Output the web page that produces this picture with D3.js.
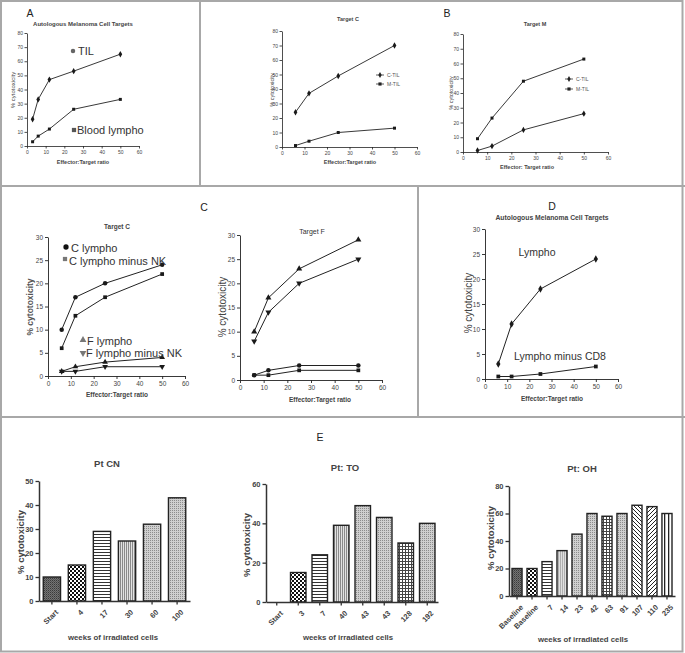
<!DOCTYPE html>
<html><head><meta charset="utf-8">
<script src="https://cdn.jsdelivr.net/npm/d3@7"></script>
<style>body{margin:0;background:#fff;} svg{display:block;font-family:"Liberation Sans",Arial,sans-serif;}</style>
</head><body><svg id="c" width="685" height="653"></svg>
<script>
// ---------- data ----------
const ratiosA = [3, 6, 12, 25, 50];
const tilA = [19, 33, 47, 53, 65];
const bloodA = [3, 7, 12, 26, 33];
const ratios = [6, 12, 25, 50];
const targetC_CTIL = [24, 37, 49, 70];
const targetC_MTIL = [1, 4, 10, 13];
const targetM_MTIL = [9, 23, 48, 63];
const targetM_CTIL = [1, 4, 15, 26];
const tcC = [10, 17, 20, 24];
const tcCminusNK = [6, 13, 17, 22];
const tcF = [1, 2, 3, 4];
const tcFminusNK = [1, 1, 2, 2];
const tfF = [10, 17, 23, 29];
const tfFminusNK = [8, 14, 20, 25];
const tfC = [1, 2, 3, 3];
const tfCminusNK = [1, 1, 2, 2];
const dLympho = [3, 11, 18, 24];
const dMinusCD8 = [0.5, 0.5, 1, 2.5];
const xTicks = [0, 10, 20, 30, 40, 50, 60];
const yTicks80 = [0, 10, 20, 30, 40, 50, 60, 70, 80];
const yTicks30 = [0, 5, 10, 15, 20, 25, 30];
const cnWeeks = ["Start", "4", "17", "30", "60", "100"];
const cnValues = [10, 15, 29, 25, 32, 43];
const cnTicks = [0, 10, 20, 30, 40, 50];
const toWeeks = ["Start", "3", "7", "40", "43", "43", "128", "192"];
const toValues = [0, 15, 24, 39, 49, 43, 30, 40];
const toTicks = [0, 20, 40, 60];
const ohWeeks = ["Baseline", "Baseline", "7", "14", "23", "42", "63", "91", "107", "110", "235"];
const ohValues = [20, 20, 25, 33, 45, 60, 58, 60, 66, 65, 60];
const ohTicks = [0, 20, 40, 60, 80];
// styles (fill patterns per bar)
const cnPatterns = ["pDark", "pChecker", "pHLines", "pVLines", "pDots", "pDots"];
const toPatterns = ["pDots", "pChecker", "pHLines", "pVLines", "pDots", "pDots", "pGrid", "pDots"];
const ohPatterns = ["pDark", "pChecker", "pHLines", "pLight", "pDots", "pDots", "pGrid", "pDots", "pDiag1", "pDiag2", "pVLines2"];

const svg = d3.select("#c");
const defs = svg.append("defs");
function pat(id, w, h, bg, fn) {
  const p = defs.append("pattern").attr("id", id).attr("patternUnits", "userSpaceOnUse")
    .attr("width", w).attr("height", h);
  p.append("rect").attr("width", w).attr("height", h).attr("fill", bg);
  fn(p);
}
const r = (p, x, y, w, h, c) => p.append("rect").attr("x", x).attr("y", y).attr("width", w).attr("height", h).attr("fill", c);
pat("pDark", 2, 2, "#747474", p => { r(p, 0, 0, 1, 1, "#3a3a3a"); r(p, 1, 1, 1, 1, "#555"); });
pat("pChecker", 4, 4, "#fff", p => { r(p, 0, 0, 2, 2, "#111"); r(p, 2, 2, 2, 2, "#111"); });
pat("pHLines", 4, 3, "#fff", p => { r(p, 0, 0, 4, 1, "#333"); });
pat("pVLines", 2, 4, "#e2e2e2", p => { r(p, 0, 0, 1, 4, "#8a8a8a"); });
pat("pVLines2", 4, 4, "#fff", p => { r(p, 0, 0, 1.3, 4, "#222"); });
pat("pDots", 2, 2, "#cfcfcf", p => { r(p, 0, 0, 1, 1, "#8c8c8c"); });
pat("pLight", 2, 2, "#e0e0e0", p => { r(p, 0, 0, 1, 2, "#b0b0b0"); });
pat("pGrid", 3, 3, "#fff", p => { r(p, 0, 0, 3, 1, "#444"); r(p, 0, 0, 1, 3, "#444"); });
pat("pDiag1", 4, 4, "#fff", p => p.append("path").attr("d", "M0,0L4,4M-1,3L1,5M3,-1L5,1").attr("stroke", "#222").attr("stroke-width", 1));
pat("pDiag2", 4, 4, "#fff", p => p.append("path").attr("d", "M0,4L4,0M-1,1L1,-1M3,5L5,3").attr("stroke", "#222").attr("stroke-width", 1));

// ---------- frame ----------
const FR = "#a8a8a8";
svg.append("rect").attr("x", 1).attr("y", 1).attr("width", 681.5).attr("height", 650.5).attr("fill", "none").attr("stroke", FR).attr("stroke-width", 2);
const ln = (x1, y1, x2, y2) => svg.append("line").attr("x1", x1).attr("y1", y1).attr("x2", x2).attr("y2", y2).attr("stroke", FR).attr("stroke-width", 2);
ln(0, 186, 685, 186);
ln(0, 417, 685, 417);
ln(200, 0, 200, 186);
ln(418, 186, 418, 417);

function txt(x, y, s, size, o = {}) {
  const t = svg.append("text").attr("x", x).attr("y", y).text(s)
    .attr("font-size", size).attr("fill", o.fill || "#333")
    .attr("font-weight", o.bold ? "bold" : "normal")
    .attr("text-anchor", o.anchor || "middle")
    .attr("dominant-baseline", "central");
  if (o.rotate) t.attr("transform", `rotate(${o.rotate},${x},${y})`);
  return t;
}
const SYM = { circle: d3.symbolCircle, square: d3.symbolSquare, diamond: d3.symbolDiamond, tri: d3.symbolTriangle };
function marker(g, x, y, sym, size, color, down) {
  g.append("path").attr("transform", `translate(${x},${y})${down ? " rotate(180)" : ""}`)
    .attr("d", d3.symbol().type(SYM[sym]).size(size)).attr("fill", color);
}

function lineChart(o) {
  const g = svg.append("g");
  const x = d3.scaleLinear().domain([0, 60]).range([o.x0, o.x1]);
  const y = d3.scaleLinear().domain([0, o.ymax]).range([o.y0, o.y1]);
  const xa = g.append("g").attr("transform", `translate(0,${o.y0})`)
    .call(d3.axisBottom(x).tickValues(xTicks).tickSize(o.tick).tickSizeOuter(0).tickPadding(o.pad));
  const ya = g.append("g").attr("transform", `translate(${o.x0},0)`)
    .call(d3.axisLeft(y).tickValues(o.yticks).tickSize(o.tick).tickSizeOuter(0).tickPadding(o.pad));
  [xa, ya].forEach(a => {
    a.select(".domain").attr("stroke", "#222").attr("stroke-width", o.aw);
    a.selectAll(".tick line").attr("stroke", "#222").attr("stroke-width", o.aw);
    a.selectAll("text").attr("font-size", o.fs).attr("fill", "#444").attr("font-family", '"Liberation Sans", Arial, sans-serif');
  });
  o.series.forEach(s => {
    const pts = s.x.map((xv, i) => [xv, s.y[i]]);
    g.append("path").datum(pts).attr("d", d3.line().x(d => x(d[0])).y(d => y(d[1])))
      .attr("fill", "none").attr("stroke", "#222").attr("stroke-width", o.lw);
    pts.forEach(d => marker(g, x(d[0]), y(d[1]), s.sym, s.size || o.ms, "#1a1a1a", s.down));
  });
  return { x, y, g };
}

function barChart(o) {
  const idx = o.values.map((_, i) => i);
  const x = d3.scaleBand().domain(idx).range([o.x0, o.x1]).paddingInner(o.pi).paddingOuter(o.po);
  const y = d3.scaleLinear().domain([0, o.ymax]).range([o.y0, o.y1]);
  const g = svg.append("g");
  g.selectAll("rect.bar").data(idx.filter(i => o.values[i] > 0)).enter().append("rect")
    .attr("class", "bar")
    .attr("x", i => x(i)).attr("width", x.bandwidth())
    .attr("y", i => y(o.values[i])).attr("height", i => o.y0 - y(o.values[i]))
    .attr("fill", i => `url(#${o.patterns[i]})`).attr("stroke", "#222").attr("stroke-width", 1.4);
  const xa = g.append("g").attr("transform", `translate(0,${o.y0})`)
    .call(d3.axisBottom(x).tickFormat(i => o.labels[i]).tickSize(3.5).tickSizeOuter(0));
  xa.selectAll("text").attr("x", 0).attr("y", 0).attr("dy", null)
    .attr("transform", "translate(5,10) rotate(-45)").attr("text-anchor", "end")
    .attr("dominant-baseline", "central");
  const ya = g.append("g").attr("transform", `translate(${o.x0},0)`)
    .call(d3.axisLeft(y).tickValues(o.yticks).tickSize(3.5).tickSizeOuter(0).tickPadding(2));
  [xa, ya].forEach(a => {
    a.select(".domain").attr("stroke", "#333").attr("stroke-width", 1.5);
    a.selectAll(".tick line").attr("stroke", "#333").attr("stroke-width", 1.3);
    a.selectAll("text").attr("font-size", 7.5).attr("font-weight", "bold").attr("fill", "#444")
      .attr("font-family", '"Liberation Sans", Arial, sans-serif');
  });
  return { x, y, g };
}

// ---------- Row 1 ----------
const r1 = { tick: 2.5, pad: 1.5, fs: 5, aw: 0.8, lw: 0.9, ms: 9, ymax: 80, yticks: yTicks80 };
txt(30, 13, "A", 10.5, { fill: "#222" });
txt(83, 24, "Autologous Melanoma Cell Targets", 6, { bold: true, fill: "#444" });
const cA = lineChart(Object.assign({}, r1, { x0: 27, x1: 139, y0: 146, y1: 33,
  series: [{ x: ratiosA, y: tilA, sym: "diamond", size: 12 }, { x: ratiosA, y: bloodA, sym: "square" }] }));
txt(13, 90, "% cytotoxicity", 6, { rotate: -90, fill: "#444" });
txt(83, 162, "Effector:Target ratio", 5.5, { bold: true, fill: "#444" });
marker(svg, 73, 51, "circle", 16, "#666");
txt(78, 51, "TIL", 11, { anchor: "start", fill: "#333" });
marker(svg, 74, 130, "square", 18, "#555");
txt(77, 130, "Blood lympho", 11, { anchor: "start", fill: "#333" });

// middle: Target C
txt(348, 19, "Target C", 5.5, { bold: true, fill: "#444" });
lineChart(Object.assign({}, r1, { x0: 282, x1: 417, y0: 147, y1: 31,
  series: [{ x: ratios, y: targetC_CTIL, sym: "diamond", size: 12 }, { x: ratios, y: targetC_MTIL, sym: "square" }] }));
txt(272, 90, "% cytotoxicity", 5.5, { rotate: -90, fill: "#444" });
txt(350, 162, "Effector:Target ratio", 5.5, { bold: true, fill: "#444" });
function legendItem(x, y, label, sym) {
  svg.append("line").attr("x1", x - 4).attr("x2", x + 4).attr("y1", y).attr("y2", y).attr("stroke", "#333").attr("stroke-width", 0.8);
  marker(svg, x, y, sym, 10, "#222");
  txt(x + 7, y, label, 5, { anchor: "start", fill: "#555" });
}
legendItem(380, 75, "C-TIL", "diamond");
legendItem(380, 84, "M-TIL", "square");

// B: Target M
txt(447, 13, "B", 10.5, { fill: "#222" });
txt(535, 24, "Target M", 5.5, { bold: true, fill: "#444" });
lineChart(Object.assign({}, r1, { x0: 463, x1: 608, y0: 152, y1: 34,
  series: [{ x: ratios, y: targetM_MTIL, sym: "square" }, { x: ratios, y: targetM_CTIL, sym: "diamond", size: 12 }] }));
txt(451, 93, "% cytotoxicity", 5.5, { rotate: -90, fill: "#444" });
txt(527, 167, "Effector: Target ratio", 5.5, { bold: true, fill: "#444" });
legendItem(569, 79, "C-TIL", "diamond");
legendItem(569, 89, "M-TIL", "square");

// ---------- Row 2 ----------
const r2 = { tick: 3, pad: 2, fs: 6.5, aw: 0.9, lw: 1, ms: 14, ymax: 30, yticks: yTicks30 };
txt(204, 207, "C", 10.5, { fill: "#222" });
txt(117, 226, "Target C", 6.5, { bold: true, fill: "#444" });
lineChart(Object.assign({}, r2, { x0: 48, x1: 185, y0: 376, y1: 237,
  series: [{ x: ratios, y: tcC, sym: "circle", size: 16 }, { x: ratios, y: tcCminusNK, sym: "square" },
           { x: ratios, y: tcF, sym: "tri", size: 14 }, { x: ratios, y: tcFminusNK, sym: "tri", size: 14, down: true }] }));
txt(30, 307, "% cytotoxicity", 8.5, { rotate: -90, bold: true, fill: "#555" });
txt(117, 394, "Effector:Target ratio", 6.5, { bold: true, fill: "#444" });
marker(svg, 66, 247, "circle", 22, "#111");
txt(71, 248, "C lympho", 11, { anchor: "start" });
marker(svg, 65, 259, "square", 18, "#777");
txt(69, 261, "C lympho minus NK", 11, { anchor: "start" });
marker(svg, 83, 340, "tri", 20, "#777");
txt(87, 341, "F lympho", 11, { anchor: "start" });
marker(svg, 83, 353, "tri", 20, "#777", true);
txt(86, 353, "F lympho minus NK", 11, { anchor: "start" });

txt(312, 231, "Target F", 7, { fill: "#333" });
lineChart(Object.assign({}, r2, { x0: 240, x1: 382, y0: 380, y1: 235,
  series: [{ x: ratios, y: tfF, sym: "tri", size: 16 }, { x: ratios, y: tfFminusNK, sym: "tri", size: 16, down: true },
           { x: ratios, y: tfC, sym: "circle", size: 16 }, { x: ratios, y: tfCminusNK, sym: "square" }] }));
txt(222, 307, "% cytotoxicity", 10, { rotate: -90, fill: "#444" });
txt(320, 399, "Effector:Target ratio", 6.5, { bold: true, fill: "#444" });

txt(552, 206, "D", 10.5, { fill: "#222" });
txt(552, 217, "Autologous Melanoma Cell Targets", 6.8, { bold: true, fill: "#444" });
lineChart(Object.assign({}, r2, { x0: 485, x1: 618, y0: 379, y1: 229,
  series: [{ x: ratios, y: dLympho, sym: "diamond", size: 16 }, { x: ratios, y: dMinusCD8, sym: "square" }] }));
txt(468, 303, "% cytotoxicity", 10, { rotate: -90, fill: "#444" });
txt(552, 398, "Effector:Target ratio", 6.5, { bold: true, fill: "#444" });
txt(537, 252, "Lympho", 10.5, { fill: "#333" });
txt(560, 356, "Lympho minus CD8", 10.5, { fill: "#333" });

// ---------- Row 3 ----------
txt(320, 437, "E", 10.5, { fill: "#222" });
txt(107, 463, "Pt CN", 9.5, { bold: true, fill: "#444" });
barChart({ x0: 39, x1: 190, y0: 601, y1: 481, ymax: 50, yticks: cnTicks, values: cnValues, labels: cnWeeks, patterns: cnPatterns, pi: 0.31, po: 0.17 });
txt(20, 542, "% cytotoxicity", 9.5, { rotate: -90, bold: true, fill: "#444" });
txt(113, 637, "weeks of irradiated cells", 7.8, { bold: true, fill: "#444" });

txt(345, 467, "Pt: TO", 9.5, { bold: true, fill: "#444" });
barChart({ x0: 266, x1: 438, y0: 602, y1: 484, ymax: 60, yticks: toTicks, values: toValues, labels: toWeeks, patterns: toPatterns, pi: 0.28, po: 0.14 });
txt(246, 545, "% cytotoxicity", 9.5, { rotate: -90, bold: true, fill: "#444" });
txt(348, 637, "weeks of irradiated cells", 7.8, { bold: true, fill: "#444" });

txt(582, 468, "Pt: OH", 9.5, { bold: true, fill: "#444" });
barChart({ x0: 509, x1: 675, y0: 596, y1: 486, ymax: 80, yticks: ohTicks, values: ohValues, labels: ohWeeks, patterns: ohPatterns, pi: 0.33, po: 0.2 });
txt(490, 538, "% cytotoxicity", 9.5, { rotate: -90, bold: true, fill: "#444" });
txt(583, 639, "weeks of irradiated cells", 7.8, { bold: true, fill: "#444" });
</script></body></html>
